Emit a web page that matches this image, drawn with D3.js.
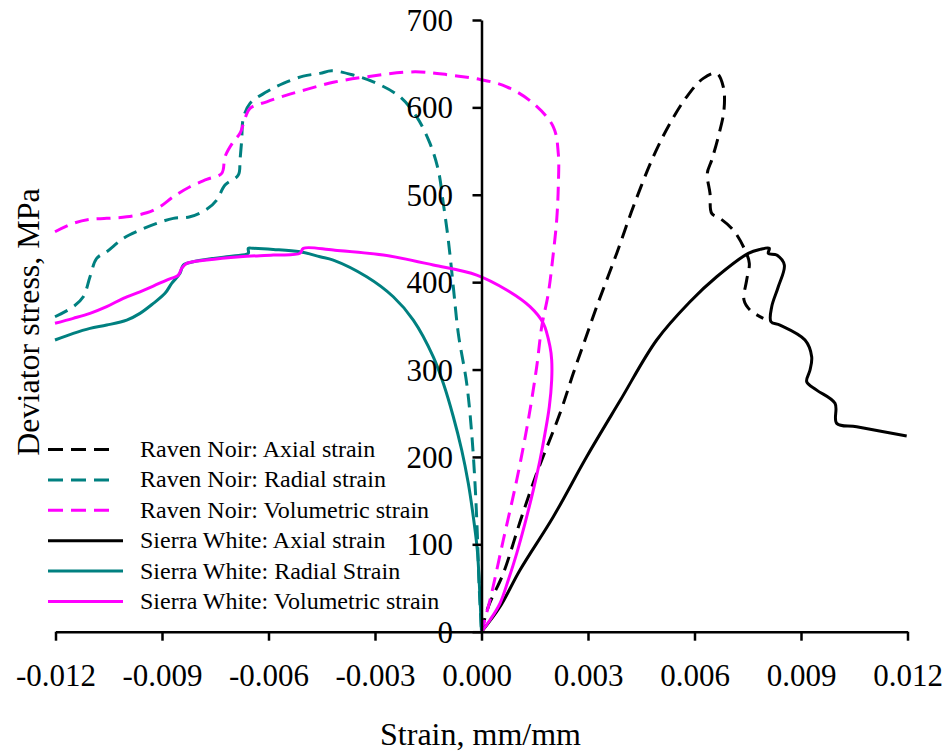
<!DOCTYPE html>
<html>
<head>
<meta charset="utf-8">
<script src="https://cdn.jsdelivr.net/npm/d3@7"></script>
<style>
  html, body { margin: 0; padding: 0; background: #fff; }
  svg { display: block; }
  text { font-family: "Liberation Serif", "Times New Roman", serif; fill: #000; }
</style>
</head>
<body>
<svg id="chart" width="947" height="753"></svg>
<script>
// Stress-strain curves: [strain (mm/mm), deviator stress (MPa)]
const ravenNoirAxial = [
  [0, 0], [0.000192, 28.6], [0.000614, 66.8], [0.001132, 131.6], [0.001555, 181.2],
  [0.002211, 249.9], [0.002586, 295.7], [0.002915, 333.8], [0.003245, 371.9],
  [0.003808, 432.9], [0.004276, 486.3], [0.004839, 543.5], [0.00531, 581.7],
  [0.00578, 612.1], [0.006248, 633.2], [0.006625, 638.9], [0.006811, 623.6],
  [0.006831, 596.9], [0.00667, 566.4], [0.006485, 539.7], [0.00636, 524.5],
  [0.006437, 501.6], [0.006485, 478.7], [0.006718, 473.0], [0.007093, 459.6],
  [0.007423, 436.7], [0.007544, 421.5], [0.00747, 402.4], [0.007394, 379.5],
  [0.007563, 368.1], [0.007938, 358.6]
];

const ravenNoirRadial = [
  [-0.012014, 360.4], [-0.011499, 371.9], [-0.011217, 383.3], [-0.011028, 406.2],
  [-0.01084, 427.2], [-0.010558, 434.8], [-0.01009, 450.1], [-0.00962, 459.6],
  [-0.009149, 467.3], [-0.008682, 473.0], [-0.008211, 474.8], [-0.007741, 483.3],
  [-0.007459, 493.9], [-0.007225, 511.1], [-0.006851, 522.5], [-0.006803, 539.7],
  [-0.006755, 562.6], [-0.00671, 587.4], [-0.006521, 604.6], [-0.006051, 617.8],
  [-0.005583, 627.5], [-0.00502, 635.8], [-0.004549, 638.9], [-0.00422, 641.9],
  [-0.003611, 637.0], [-0.002952, 627.5], [-0.002296, 612.1], [-0.001825, 589.2],
  [-0.001451, 558.8], [-0.001217, 528.3], [-0.001076, 490.2], [-0.000935, 448.2],
  [-0.000794, 394.7], [-0.000654, 341.4], [-0.000417, 284.2], [-0.000276, 227.0],
  [-0.000183, 169.8], [-0.000118, 112.6], [-0.00007, 55.4], [0, 0]
];

const ravenNoirVolumetric = [
  [-0.012014, 457.7], [-0.011499, 467.3], [-0.011028, 471.9], [-0.010558, 473.0],
  [-0.009994, 474.8], [-0.009431, 479.4], [-0.009056, 486.3], [-0.008682, 497.7],
  [-0.008211, 509.2], [-0.007741, 517.6], [-0.007318, 524.5], [-0.007225, 543.5],
  [-0.006992, 560.6], [-0.006803, 570.3], [-0.006662, 587.4], [-0.006521, 598.9],
  [-0.006051, 606.4], [-0.005487, 614.1], [-0.004924, 620.6], [-0.004175, 628.7],
  [-0.003234, 635.0], [-0.001873, 640.7], [-0.000887, 637.0], [-0.000042, 632.0],
  [0.00071, 623.6], [0.001459, 604.6], [0.002023, 577.8], [0.002163, 547.4],
  [0.002163, 509.2], [0.002118, 471.1], [0.002023, 433.0], [0.001882, 387.2],
  [0.001696, 349.0], [0.001555, 303.2], [0.001318, 242.2], [0.000992, 173.6],
  [0.000614, 104.9], [0.000239, 36.2], [0, 0]
];

const sierraWhiteAxial = [
  [0, 0], [0.000521, 28.6], [0.001085, 70.6], [0.002023, 131.6], [0.002963, 200.2],
  [0.003901, 264.2], [0.004935, 333.8], [0.005873, 377.6], [0.006625, 406.2],
  [0.007515, 433.0], [0.007845, 437.5], [0.008107, 438.7], [0.008079, 433.0],
  [0.008315, 431.0], [0.00853, 419.6], [0.00836, 394.7], [0.008175, 371.9],
  [0.008155, 354.7], [0.008408, 350.9], [0.009113, 333.8], [0.009301, 314.6],
  [0.009254, 299.4], [0.009161, 286.0], [0.009442, 276.5], [0.009958, 261.3],
  [0.010006, 238.4], [0.010569, 234.6], [0.011977, 223.9]
];

const sierraWhiteRadial = [
  [-0.012014, 333.8], [-0.011499, 341.4], [-0.011028, 347.1], [-0.010558, 350.9],
  [-0.009994, 356.6], [-0.00962, 364.3], [-0.009245, 375.7], [-0.008915, 387.2],
  [-0.008727, 398.6], [-0.008493, 410.1], [-0.0084, 419.6], [-0.008118, 423.3],
  [-0.007555, 427.2], [-0.006992, 429.9], [-0.006569, 433.0], [-0.006569, 438.7],
  [-0.006428, 438.7], [-0.005865, 437.5], [-0.005113, 434.8], [-0.004549, 429.1],
  [-0.004175, 425.3], [-0.003234, 406.2], [-0.002485, 383.3], [-0.001921, 356.6],
  [-0.001358, 314.6], [-0.001076, 284.2], [-0.000794, 246.0], [-0.000558, 207.9],
  [-0.000372, 169.8], [-0.000231, 131.6], [-0.000118, 93.5], [-0.000062, 55.4], [0, 0]
];

const sierraWhiteVolumetric = [
  [-0.012014, 352.9], [-0.011499, 358.6], [-0.011028, 364.3], [-0.010558, 371.9],
  [-0.01009, 381.5], [-0.00962, 389.0], [-0.009245, 395.5], [-0.008868, 402.4],
  [-0.008541, 408.1], [-0.008445, 415.8], [-0.008304, 421.5], [-0.007741, 425.3],
  [-0.006803, 429.1], [-0.005865, 431.0], [-0.005113, 433.0], [-0.00502, 438.7],
  [-0.004175, 436.7], [-0.002766, 431.0], [-0.001358, 419.6], [-0.000135, 408.1],
  [0.00071, 391.0], [0.001366, 371.9], [0.001741, 352.9], [0.00193, 326.1],
  [0.001977, 310.9], [0.001977, 288.0], [0.00191, 257.4], [0.001789, 227.0],
  [0.001648, 196.5], [0.001459, 162.1], [0.001225, 124.0], [0.000992, 89.7],
  [0.000755, 59.2], [0.000521, 32.5], [0.000239, 13.4], [0, 0]
];

const xTicks = [-0.012, -0.009, -0.006, -0.003, 0, 0.003, 0.006, 0.009, 0.012];
const yTicks = [0, 100, 200, 300, 400, 500, 600, 700];

const seriesNames = [
  "Raven Noir: Axial strain",
  "Raven Noir: Radial strain",
  "Raven Noir: Volumetric strain",
  "Sierra White: Axial strain",
  "Sierra White: Radial Strain",
  "Sierra White: Volumetric strain"
];
const seriesColors = ["#000000", "#008080", "#ff00ff", "#000000", "#008080", "#ff00ff"];
const seriesDashed = [true, true, true, false, false, false];
const seriesData = [
  ravenNoirAxial, ravenNoirRadial, ravenNoirVolumetric,
  sierraWhiteAxial, sierraWhiteRadial, sierraWhiteVolumetric
];

const svg = d3.select("#chart");

const x = d3.scaleLinear().domain([-0.012, 0.012]).range([55.5, 907.5]);
const y = d3.scaleLinear().domain([0, 700]).range([631.7, 20]);

const dashPattern = "14,8";
const lineWidth = 3;

// Curves
const line = d3.line()
  .x(d => x(d[0]))
  .y(d => y(d[1]))
  .curve(d3.curveCatmullRom.alpha(0.5));

const curves = svg.append("g");
seriesData.forEach((data, i) => {
  curves.append("path")
    .datum(data)
    .attr("d", line)
    .attr("fill", "none")
    .attr("stroke", seriesColors[i])
    .attr("stroke-width", lineWidth)
    .attr("stroke-linejoin", "round")
    .attr("stroke-dasharray", seriesDashed[i] ? dashPattern : null);
});

// X axis along stress = 0, ticks pointing down
const xAxis = svg.append("g")
  .attr("transform", `translate(0,${y(0)})`)
  .call(d3.axisBottom(x).tickValues(xTicks).tickSize(9).tickSizeOuter(0)
    .tickFormat(d => d3.format(".3f")(d).replace("−", "-")));
xAxis.select(".domain").attr("stroke", "#000").attr("stroke-width", 2.5);
xAxis.selectAll(".tick line").attr("stroke", "#000").attr("stroke-width", 2.5);
xAxis.selectAll(".tick text")
  .attr("y", 54)
  .attr("dy", 0)
  .style("font-family", "'Liberation Serif', serif")
  .style("font-size", "31px")
  .attr("fill", "#000");
xAxis.selectAll(".tick").filter(d => d === 0).select("text").remove();

// Y axis along strain = 0, ticks pointing left
const yAxis = svg.append("g")
  .attr("transform", `translate(${x(0)},0)`)
  .call(d3.axisLeft(y).tickValues(yTicks).tickSize(9).tickSizeOuter(0).tickFormat(d3.format("d")));
yAxis.select(".domain").attr("stroke", "#000").attr("stroke-width", 2.5);
yAxis.selectAll(".tick line").attr("stroke", "#000").attr("stroke-width", 2.5);
yAxis.selectAll(".tick text")
  .attr("x", -28.5)
  .attr("dy", "0.34em")
  .style("font-family", "'Liberation Serif', serif")
  .style("font-size", "31px")
  .attr("fill", "#000");

// The 0.000 strain label sits under the origin
svg.append("text")
  .attr("x", x(0) - 4.5)
  .attr("y", y(0) + 54)
  .attr("text-anchor", "middle")
  .style("font-size", "31px")
  .text("0.000");

// Axis titles
svg.append("text")
  .attr("x", 480.5)
  .attr("y", 745)
  .attr("text-anchor", "middle")
  .style("font-size", "32px")
  .text("Strain, mm/mm");

svg.append("text")
  .attr("transform", "translate(39,322) rotate(-90)")
  .attr("text-anchor", "middle")
  .style("font-size", "32px")
  .text("Deviator stress, MPa");

// Legend
const legend = svg.append("g");
seriesNames.forEach((name, i) => {
  const cy = 449.5 + i * 30.4;
  legend.append("line")
    .attr("x1", 48)
    .attr("x2", seriesDashed[i] ? 115 : 123)
    .attr("y1", cy)
    .attr("y2", cy)
    .attr("stroke", seriesColors[i])
    .attr("stroke-width", lineWidth)
    .attr("stroke-dasharray", seriesDashed[i] ? "15,8" : null);
  legend.append("text")
    .attr("x", 140)
    .attr("y", cy + 7.5)
    .style("font-size", "24px")
    .text(name);
});
</script>
</body>
</html>
